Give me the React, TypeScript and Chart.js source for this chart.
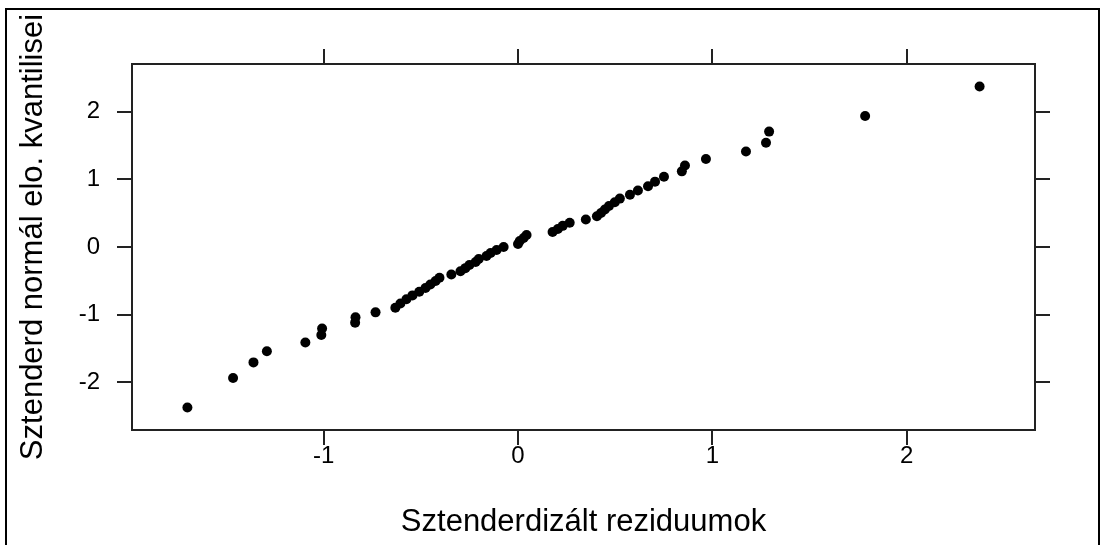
import React, { useEffect, useRef } from "react";
import { Chart, registerables } from "chart.js";

Chart.register(...registerables);

// Standardized residuals (sorted)
const residuals: number[] = [
  -1.701, -1.466, -1.361, -1.292, -1.094, -1.012, -1.008, -0.838, -0.836, -0.733,
  -0.631, -0.605, -0.574, -0.543, -0.508, -0.476, -0.451, -0.424, -0.404, -0.343,
  -0.296, -0.271, -0.250, -0.218, -0.202, -0.162, -0.141, -0.110, -0.074, 0.000,
  0.009, 0.029, 0.044, 0.178, 0.205, 0.230, 0.266, 0.349, 0.406, 0.427,
  0.447, 0.468, 0.498, 0.524, 0.576, 0.617, 0.669, 0.705, 0.751, 0.843,
  0.859, 0.967, 1.173, 1.276, 1.292, 1.786, 2.375,
];

// Standard normal quantiles
const normalQuantiles: number[] = [
  -2.375, -1.938, -1.707, -1.543, -1.412, -1.302, -1.205, -1.119, -1.04, -0.967,
  -0.899, -0.835, -0.774, -0.716, -0.661, -0.607, -0.555, -0.504, -0.455, -0.407,
  -0.359, -0.313, -0.267, -0.222, -0.177, -0.132, -0.088, -0.044, 0, 0.044,
  0.088, 0.132, 0.177, 0.222, 0.267, 0.313, 0.359, 0.407, 0.455, 0.504,
  0.555, 0.607, 0.661, 0.716, 0.774, 0.835, 0.899, 0.967, 1.04, 1.119,
  1.205, 1.302, 1.412, 1.543, 1.707, 1.938, 2.375,
];

const xTicks: number[] = [-1, 0, 1, 2];
const yTicks: number[] = [-2, -1, 0, 1, 2];
const xRange: number[] = [-1.986, 2.66];
const yRange: number[] = [-2.7075, 2.7075];

const xTitle = "Sztenderdizált reziduumok";
const yTitle = "Sztenderd normál elo. kvantilisei";

const FONT = "'Liberation Sans', Arial, sans-serif";
const LINE = "#222";

const frame = {
  id: "outerFrame",
  afterDraw(chart: any) {
    const ctx = chart.ctx;
    ctx.save();
    ctx.strokeStyle = "#000";
    ctx.lineWidth = 2;
    ctx.beginPath();
    ctx.moveTo(6, 560);
    ctx.lineTo(6, 9);
    ctx.lineTo(1099, 9);
    ctx.lineTo(1099, 560);
    ctx.stroke();
    // y axis title
    ctx.fillStyle = "#000";
    ctx.font = `31px ${FONT}`;
    ctx.textAlign = "center";
    ctx.textBaseline = "middle";
    ctx.translate(33, 237);
    ctx.rotate(-Math.PI / 2);
    ctx.fillText(yTitle, 0, 0);
    ctx.restore();
  },
};

export default function App() {
  const ref = useRef<HTMLCanvasElement | null>(null);
  useEffect(() => {
    if (!ref.current) return;
    const data = residuals.map((x, i) => ({ x, y: normalQuantiles[i] }));
    const tickGrid = {
      display: true,
      drawOnChartArea: false,
      drawTicks: true,
      tickLength: 15,
      color: LINE,
      lineWidth: 2,
    };
    const border = { display: true, color: LINE, width: 2 };
    const chart = new Chart(ref.current, {
      type: "scatter",
      data: {
        datasets: [
          {
            data,
            pointRadius: 5,
            pointBackgroundColor: "#000",
            pointBorderWidth: 0,
            pointHoverRadius: 5,
          },
        ],
      },
      options: {
        animation: false,
        responsive: false,
        events: [],
        layout: { padding: 0 },
        plugins: { legend: { display: false }, tooltip: { enabled: false } },
        scales: {
          x: {
            type: "linear",
            position: "bottom",
            min: xRange[0],
            max: xRange[1],
            afterBuildTicks: (s: any) => {
              s.ticks = xTicks.map((v) => ({ value: v }));
            },
            afterFit: (s: any) => {
              s.height = 115;
            },
            grid: tickGrid,
            border,
            ticks: {
              color: "#000",
              padding: -3,
              maxRotation: 0,
              font: { family: FONT, size: 24 },
              callback: (v: any) => String(v),
            },
            title: {
              display: true,
              text: xTitle,
              color: "#000",
              font: { family: FONT, size: 31 },
              padding: { top: 0, bottom: 4 },
            },
          },
          xTop: {
            type: "linear",
            position: "top",
            min: xRange[0],
            max: xRange[1],
            afterBuildTicks: (s: any) => {
              s.ticks = xTicks.map((v) => ({ value: v }));
            },
            afterFit: (s: any) => {
              s.height = 64;
            },
            grid: tickGrid,
            border,
            ticks: { display: false },
          },
          y: {
            type: "linear",
            position: "left",
            min: yRange[0],
            max: yRange[1],
            afterBuildTicks: (s: any) => {
              s.ticks = yTicks.map((v) => ({ value: v }));
            },
            afterFit: (s: any) => {
              s.width = 132;
            },
            grid: tickGrid,
            border,
            ticks: {
              color: "#000",
              padding: 17,
              font: { family: FONT, size: 24 },
              callback: (v: any) => String(v),
            },
            title: { display: false },
          },
          yRight: {
            type: "linear",
            position: "right",
            min: yRange[0],
            max: yRange[1],
            afterBuildTicks: (s: any) => {
              s.ticks = yTicks.map((v) => ({ value: v }));
            },
            afterFit: (s: any) => {
              s.width = 70;
            },
            grid: tickGrid,
            border,
            ticks: { display: false },
          },
        },
      },
      plugins: [frame],
    });
    return () => chart.destroy();
  }, []);
  return (
    <div style={{ position: "fixed", left: 0, top: 0, width: 1105, height: 545, background: "#fff" }}>
      <canvas ref={ref} width={1105} height={545} style={{ display: "block" }} />
    </div>
  );
}
